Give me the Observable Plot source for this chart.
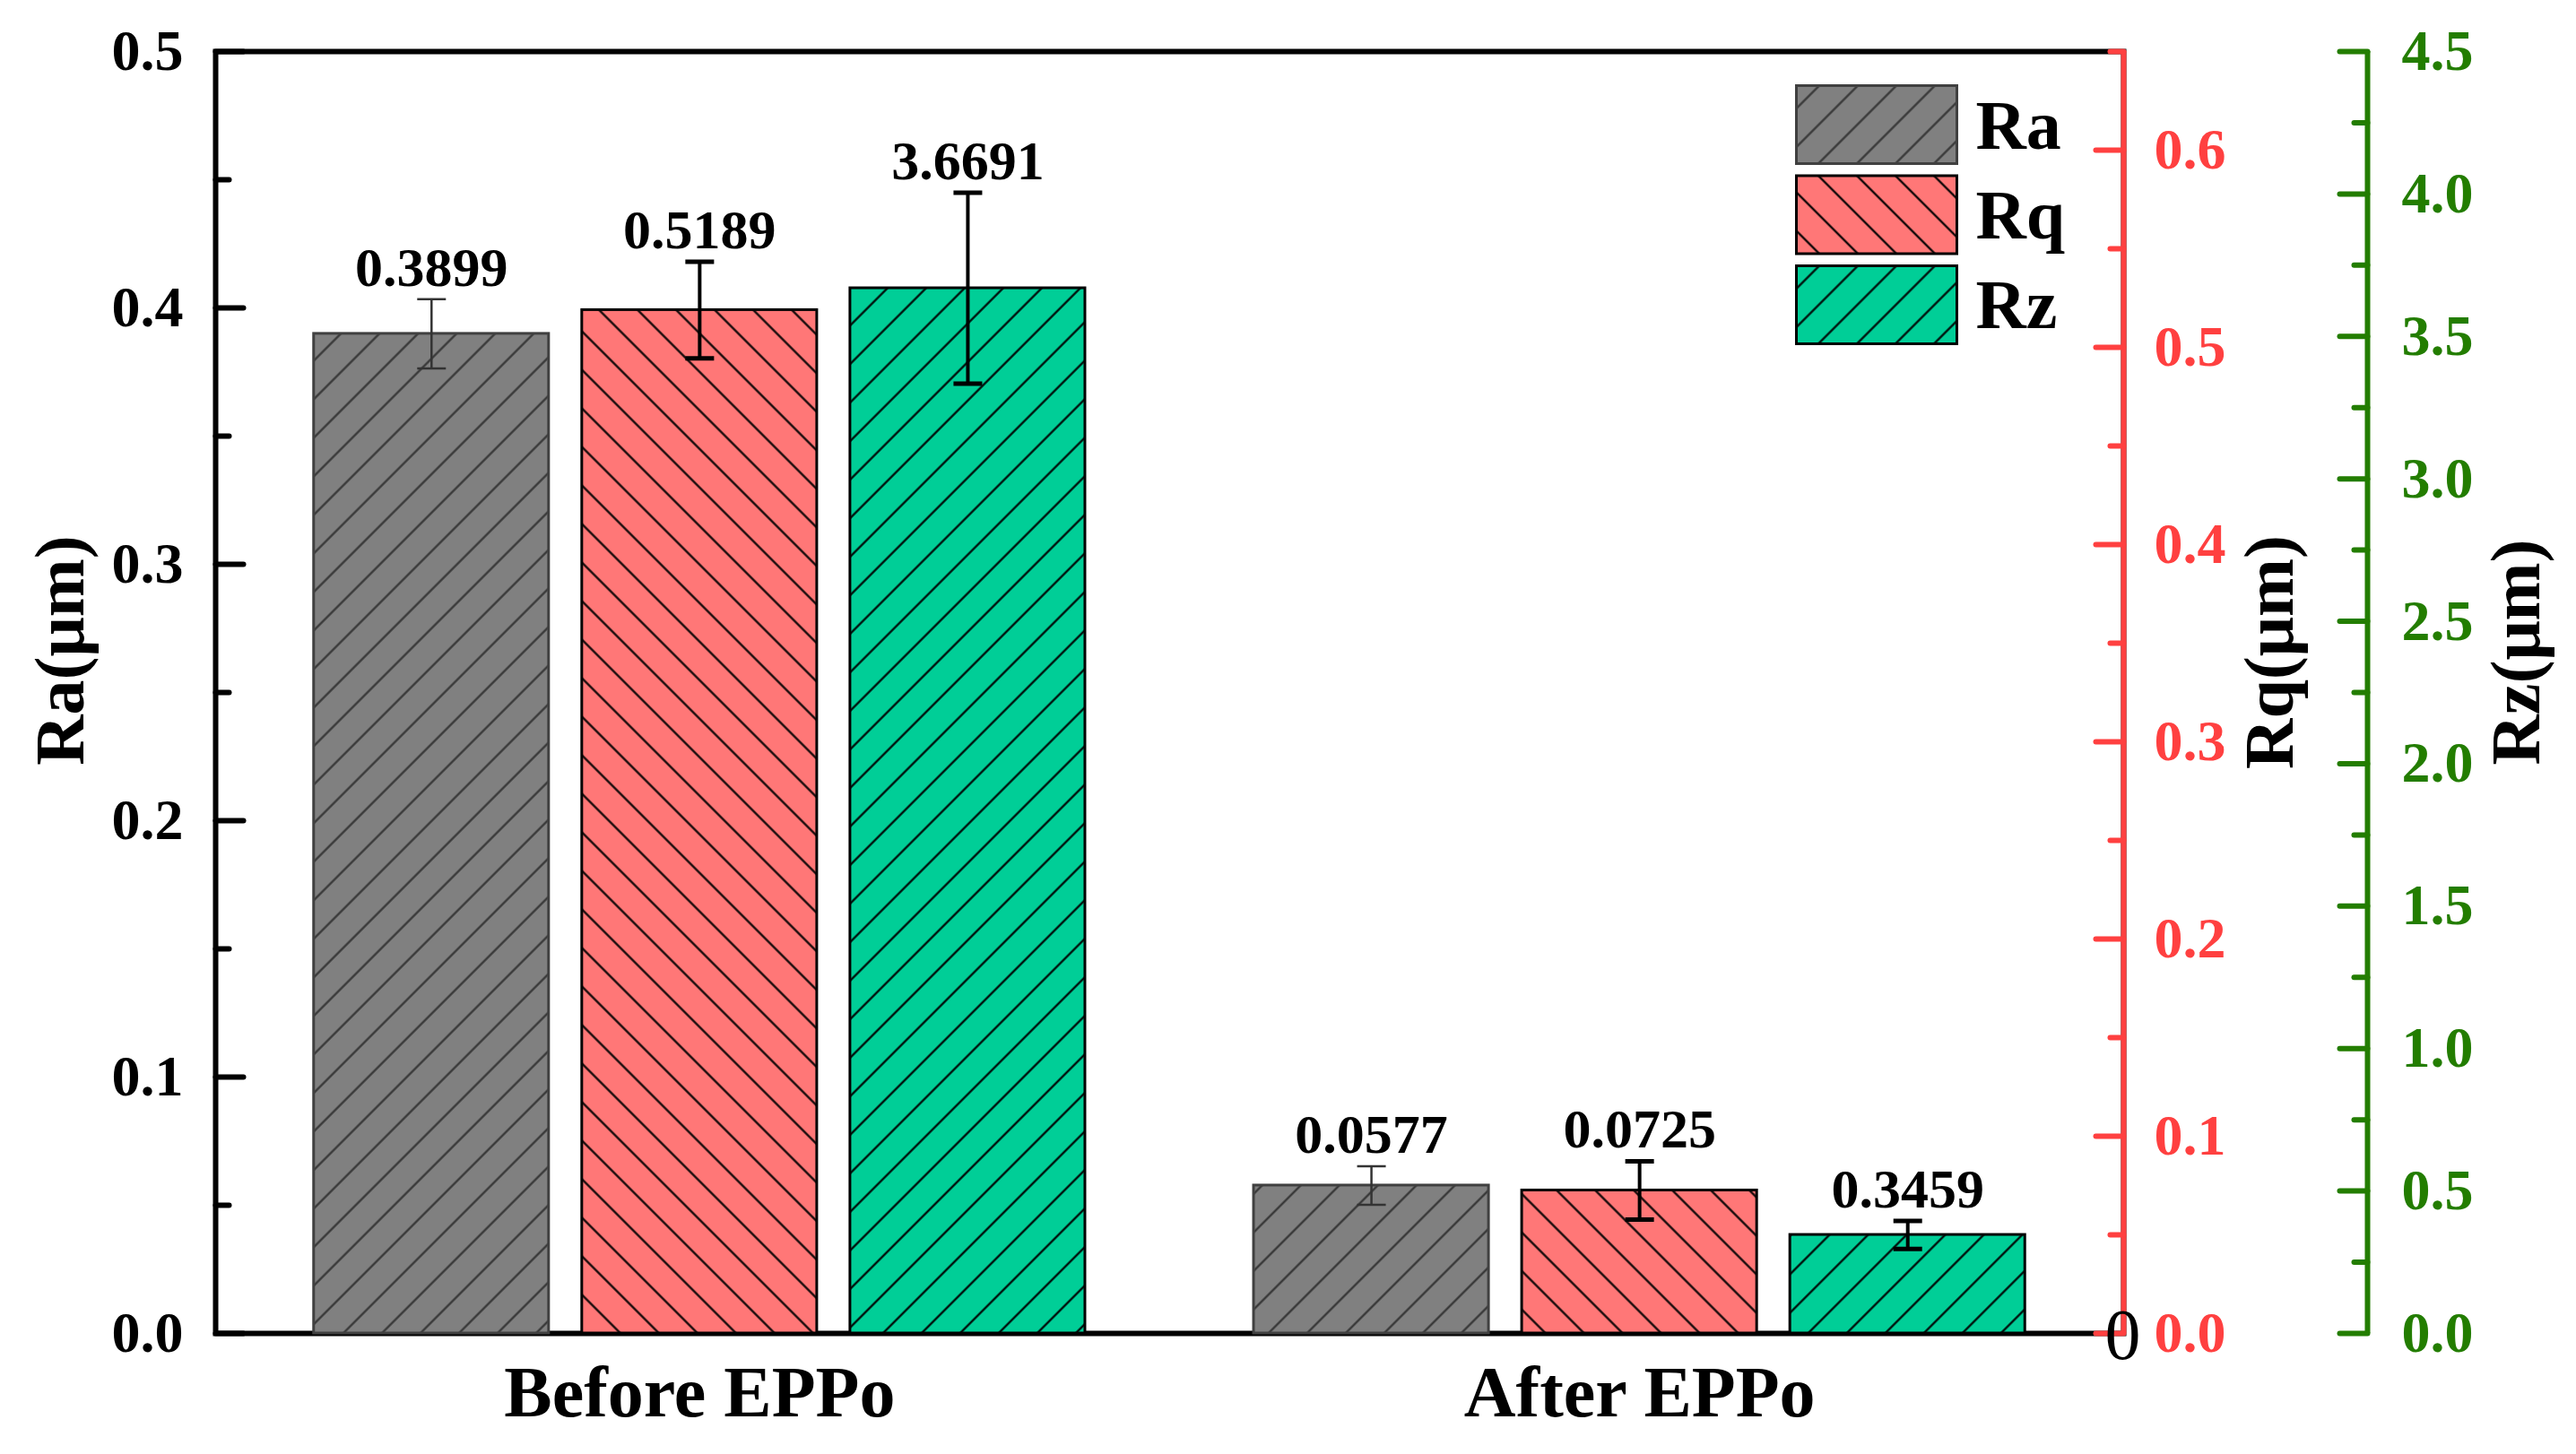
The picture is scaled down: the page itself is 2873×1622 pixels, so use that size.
<!DOCTYPE html>
<html>
<head>
<meta charset="utf-8">
<script src="https://cdn.jsdelivr.net/npm/d3@7"></script>
<script src="https://cdn.jsdelivr.net/npm/@observablehq/plot@0.6"></script>
<style>
  html, body { margin: 0; padding: 0; background: #ffffff; }
  #chart { width: 2873px; height: 1622px; }
  #chart svg { display: block; }
</style>
</head>
<body>
<div id="chart"></div>
<script>
// ---------------- data ----------------
const groups = ["Before EPPo", "After EPPo"];
const seriesNames = ["Ra", "Rq", "Rz"];
const raValues = [0.3899, 0.0577];
const rqValues = [0.5189, 0.0725];
const rzValues = [3.6691, 0.3459];
const raErrors = [0.0135, 0.0075];
const rqErrors = [0.0245, 0.0148];
const rzErrors = [0.335, 0.049];
const raTicks = [0.0, 0.1, 0.2, 0.3, 0.4, 0.5];
const raMinorTicks = [0.05, 0.15, 0.25, 0.35, 0.45];
const rqTicks = [0.0, 0.1, 0.2, 0.3, 0.4, 0.5, 0.6];
const rqMinorTicks = [0.05, 0.15, 0.25, 0.35, 0.45, 0.55, 0.65];
const rzTicks = [0.0, 0.5, 1.0, 1.5, 2.0, 2.5, 3.0, 3.5, 4.0, 4.5];
const rzMinorTicks = [0.25, 0.75, 1.25, 1.75, 2.25, 2.75, 3.25, 3.75, 4.25];
const raMax = 0.5, rqMax = 0.65, rzMax = 4.5;
const axisTitles = ["Ra(\u03bcm)", "Rq(\u03bcm)", "Rz(\u03bcm)"];

// ---------------- layout / style ----------------
const W = 2873, H = 1622;
const FONT = '"Liberation Serif", "Times New Roman", Times, serif';
const RED = "#FF4040", GREEN = "#237D00";
const xDomain = [0.485, 2.515];
const step = 0.2853, barW = 0.25;
const greenOffset = 272;

const styles = [
  {fill: "#808080", stroke: "#404040", hatch: "#333333", dir: 45, err: "#333333", errW: 2.5, capW: 2.5},
  {fill: "#FF7777", stroke: "#000000", hatch: "#000000", dir: -45, err: "#000000", errW: 4, capW: 5},
  {fill: "#00CE97", stroke: "#000000", hatch: "#000000", dir: 45, err: "#000000", errW: 4, capW: 5}
];
const series = [
  {name: seriesNames[0], values: raValues, errors: raErrors, max: raMax},
  {name: seriesNames[1], values: rqValues, errors: rqErrors, max: rqMax},
  {name: seriesNames[2], values: rzValues, errors: rzErrors, max: rzMax}
];

const tickShape = {draw(ctx, l) { ctx.moveTo(0, 0); ctx.lineTo(0, -l); }};
const capShape = {draw(ctx) { ctx.moveTo(-16, 0); ctx.lineTo(16, 0); }};
const swatchShape = {draw(ctx) { ctx.rect(-89.5, -43.5, 179, 87); }};

const marks = [];
marks.push(Plot.frame({stroke: "black", strokeWidth: 6}));
marks.push(Plot.ruleX([xDomain[1]], {stroke: RED, strokeWidth: 6}));
marks.push(Plot.ruleX([xDomain[1]], {stroke: GREEN, strokeWidth: 6, dx: greenOffset}));

// ticks
function ticks(values, max, anchor, rotate, len, color, dx = 0) {
  return Plot.vector(values, {y: d => d / max, frameAnchor: anchor, rotate, length: len, anchor: "start",
    shape: tickShape, stroke: color, strokeWidth: 6, dx});
}
marks.push(ticks(raTicks, raMax, "left", 90, 31, "black"));
marks.push(ticks(raMinorTicks, raMax, "left", 90, 15, "black"));
marks.push(ticks(rqTicks, rqMax, "right", -90, 31, RED));
marks.push(ticks(rqMinorTicks, rqMax, "right", -90, 15, RED));
marks.push(ticks(rzTicks, rzMax, "right", -90, 31, GREEN, greenOffset));
marks.push(ticks(rzMinorTicks, rzMax, "right", -90, 15, GREEN, greenOffset));

// tick labels
const tickFont = {fontSize: 64, fontWeight: "bold", lineAnchor: "middle"};
marks.push(Plot.text(raTicks, {y: d => d / raMax, frameAnchor: "left", dx: -36, textAnchor: "end",
  text: d => d.toFixed(1), fill: "black", ...tickFont}));
marks.push(Plot.text(rqTicks, {y: d => d / rqMax, frameAnchor: "right", dx: 34, textAnchor: "start",
  text: d => d.toFixed(1), fill: RED, ...tickFont}));
marks.push(Plot.text(rzTicks, {y: d => d / rzMax, frameAnchor: "right", dx: greenOffset + 38, textAnchor: "start",
  text: d => d.toFixed(1), fill: GREEN, ...tickFont}));

// stray zero near bottom-right corner
marks.push(Plot.text(["0"], {frameAnchor: "bottom-right", dx: 19, dy: 28, lineAnchor: "bottom",
  fontSize: 80, fontWeight: "normal", fill: "black"}));

// axis titles
const titleFont = {fontSize: 78, fontWeight: "bold", rotate: -90, lineAnchor: "middle", textAnchor: "middle", fill: "black"};
marks.push(Plot.text([axisTitles[0]], {frameAnchor: "left", dx: -172, dy: -47, ...titleFont}));
marks.push(Plot.text([axisTitles[1]], {frameAnchor: "right", dx: 164, dy: -45, ...titleFont}));
marks.push(Plot.text([axisTitles[2]], {frameAnchor: "right", dx: 439, dy: -45, ...titleFont}));

// group labels
marks.push(Plot.text(groups, {x: (d, i) => i + 1, frameAnchor: "bottom", dy: 92, lineAnchor: "bottom",
  text: d => d, fontSize: 80, fontWeight: "bold", fill: "black"}));

// bars, error bars, labels, legend
series.forEach((s, j) => {
  const st = styles[j];
  const rows = groups.map((g, i) => ({g, v: s.values[i], e: s.errors[i], cx: i + 1 + (j - 1) * step}));
  marks.push(Plot.rect(rows, {x1: d => d.cx - barW / 2, x2: d => d.cx + barW / 2, y1: 0, y2: d => d.v / s.max,
    fill: `url(#hatch-${s.name})`, stroke: st.stroke, strokeWidth: 3}));
  marks.push(Plot.ruleX(rows, {x: "cx", y1: d => (d.v - d.e) / s.max, y2: d => (d.v + d.e) / s.max,
    stroke: st.err, strokeWidth: st.errW}));
  marks.push(Plot.dot(rows, {x: "cx", y: d => (d.v + d.e) / s.max, symbol: capShape, fill: "none",
    stroke: st.err, strokeWidth: st.capW}));
  marks.push(Plot.dot(rows, {x: "cx", y: d => (d.v - d.e) / s.max, symbol: capShape, fill: "none",
    stroke: st.err, strokeWidth: st.capW}));
  marks.push(Plot.text(rows, {x: "cx", y: d => (d.v + d.e) / s.max, text: d => d.v.toFixed(4), dy: -15,
    lineAnchor: "bottom", fontSize: 62, fontWeight: "bold", fill: "black"}));
  // legend
  marks.push(Plot.dot([s.name], {frameAnchor: "top-right", dx: -275.5, dy: 81.5 + j * 100.5, symbol: swatchShape,
    fill: `url(#hatch-${s.name})`, stroke: st.stroke, strokeWidth: 3}));
  marks.push(Plot.text([s.name], {frameAnchor: "top-right", dx: -165, dy: 108 + j * 100, textAnchor: "start",
    lineAnchor: "bottom", fontSize: 78, fontWeight: "bold", fill: "black"}));
});

const plot = Plot.plot({
  width: W, height: H,
  marginLeft: 240, marginRight: 505, marginTop: 57, marginBottom: 135,
  x: {domain: xDomain, axis: null},
  y: {domain: [0, 1], axis: null},
  style: {fontFamily: FONT, background: "white", overflow: "visible"},
  marks
});

// hatch patterns
const svg = d3.select(plot);
const defs = svg.insert("defs", ":first-child");
const sp = 30.4;
series.forEach((s, j) => {
  const st = styles[j];
  const p = defs.append("pattern").attr("id", `hatch-${s.name}`).attr("patternUnits", "userSpaceOnUse")
    .attr("width", sp).attr("height", sp).attr("patternTransform", `rotate(${st.dir})`);
  p.append("rect").attr("width", sp).attr("height", sp).attr("fill", st.fill);
  p.append("line").attr("x1", sp / 2).attr("y1", -1).attr("x2", sp / 2).attr("y2", sp + 1)
    .attr("stroke", st.hatch).attr("stroke-width", 2.2);
});

document.getElementById("chart").appendChild(plot);
</script>
</body>
</html>
